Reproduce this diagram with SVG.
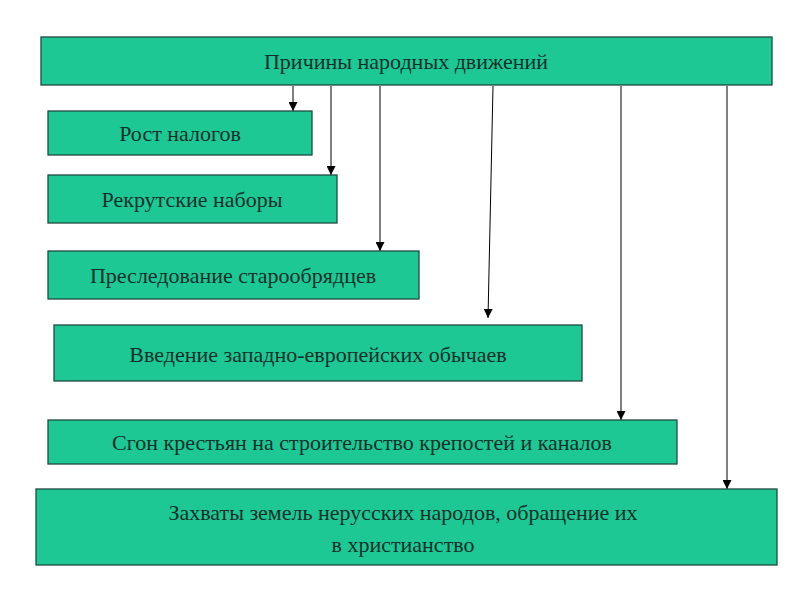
<svg xmlns="http://www.w3.org/2000/svg" width="800" height="600" viewBox="0 0 800 600">
<defs>
<style>
.b{fill:#1dc895;stroke:#1f4a40;stroke-width:1.3}
.t{font-family:"Liberation Serif",serif;font-size:22px;fill:#0f3028}
.c{stroke:#000;stroke-width:1;fill:none;marker-end:url(#a)}
</style>
<marker id="a" viewBox="0 0 10 10" refX="10" refY="5" markerWidth="9" markerHeight="9" markerUnits="userSpaceOnUse" orient="auto"><path d="M0,0L10,5L0,10z" fill="#000"/></marker>
</defs>
<rect width="800" height="600" fill="#fff"/>
<g id="connectors">
<line class="c" x1="293" y1="86" x2="293" y2="111"/>
<line class="c" x1="331" y1="86" x2="331" y2="175"/>
<line class="c" x1="380" y1="86" x2="380" y2="251"/>
<line class="c" x1="493" y1="86" x2="488" y2="318"/>
<line class="c" x1="621" y1="86" x2="621" y2="420"/>
<line class="c" x1="727" y1="86" x2="727" y2="489"/>
</g>
<g id="root"><rect class="b" x="41" y="37" width="731" height="48"/><text class="t" x="406" y="69" text-anchor="middle">Причины народных движений</text></g>
<g id="n1"><rect class="b" x="48" y="111" width="264" height="44"/><text class="t" x="180" y="141" text-anchor="middle">Рост налогов</text></g>
<g id="n2"><rect class="b" x="48" y="175" width="289" height="48"/><text class="t" x="192" y="207" text-anchor="middle">Рекрутские наборы</text></g>
<g id="n3"><rect class="b" x="48" y="251" width="371" height="48"/><text class="t" x="233" y="283" text-anchor="middle">Преследование старообрядцев</text></g>
<g id="n4"><rect class="b" x="54" y="325" width="528" height="56"/><text class="t" x="318" y="362" text-anchor="middle">Введение западно-европейских обычаев</text></g>
<g id="n5"><rect class="b" x="48" y="420" width="629" height="44"/><text class="t" x="362" y="450" text-anchor="middle">Сгон крестьян на строительство крепостей и каналов</text></g>
<g id="n6"><rect class="b" x="36" y="489" width="741" height="76"/><text class="t" x="403" y="520" text-anchor="middle">Захваты земель нерусских народов, обращение их</text><text class="t" x="403" y="552" text-anchor="middle">в христианство</text></g>
</svg>
